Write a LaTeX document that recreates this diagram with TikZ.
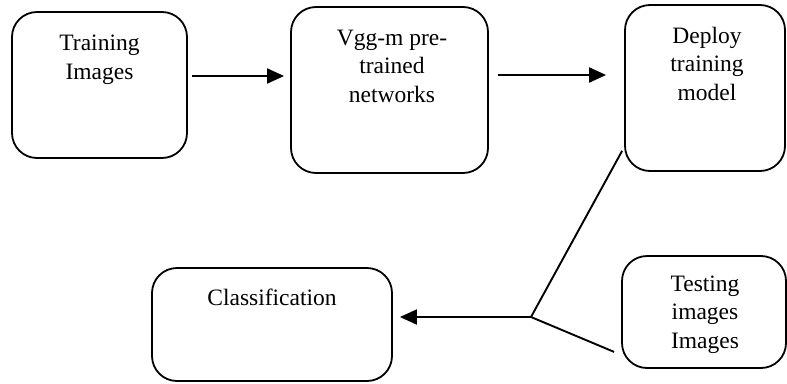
\documentclass[tikz,border=0pt]{standalone}
\usepackage{fontspec}
\setmainfont{Liberation Serif}
\usetikzlibrary{arrows.meta,calc}
\begin{document}
\begin{tikzpicture}[x=1pt,y=-1pt,
  box/.style={draw, line width=1.8pt, rounded corners=25pt, inner sep=0pt},
  lbl/.style={align=center, font=\fontsize{23.5}{28.5}\selectfont, inner sep=0pt, anchor=base},
  arr/.style={line width=1.9pt, -{Triangle[length=17pt,width=15pt]}},
  conn/.style={line width=1.9pt}]
\useasboundingbox (0,0) rectangle (787,383);
% boxes
\node[box, minimum width=175pt, minimum height=146pt] (b1) at (99.5,85) {};
\node[box, minimum width=197pt, minimum height=166pt] (b2) at (389.5,90) {};
\node[box, minimum width=160pt, minimum height=166pt] (b3) at (705,88) {};
\node[box, minimum width=240pt, minimum height=113pt] (b4) at (272,324.5) {};
\node[box, minimum width=164pt, minimum height=112pt] (b5) at (704,312) {};
% labels (base anchor = last line's baseline)
\node[lbl] (t1) at (99.5,79) {Training\\Images};
\node[lbl] (t2) at (392,102) {Vgg-m pre-\\trained\\networks};
\node[lbl] (t3) at (707,100) {Deploy\\training\\model};
\node[lbl] (t4) at (272,305) {Classification};
\node[lbl] (t5) at (705,348) {Testing\\images\\Images};
% connectors
\coordinate (r1) at (0,76);
\coordinate (r2) at (0,75);
\coordinate (j) at (531,317);
\draw[arr] ([xshift=4pt]b1.east |- r1) -- ([xshift=-6pt]b2.west |- r1);
\draw[arr] ([xshift=9pt]b2.east |- r2) -- ([xshift=-18pt]b3.west |- r2);
\draw[conn] ([shift={(-2,-21)}]b3.south west) -- (j);
\draw[conn] ([shift={(-7,-17)}]b5.south west) -- (j);
\draw[arr] (j) -- ([xshift=7pt]b4.east |- j);
\end{tikzpicture}
\end{document}
